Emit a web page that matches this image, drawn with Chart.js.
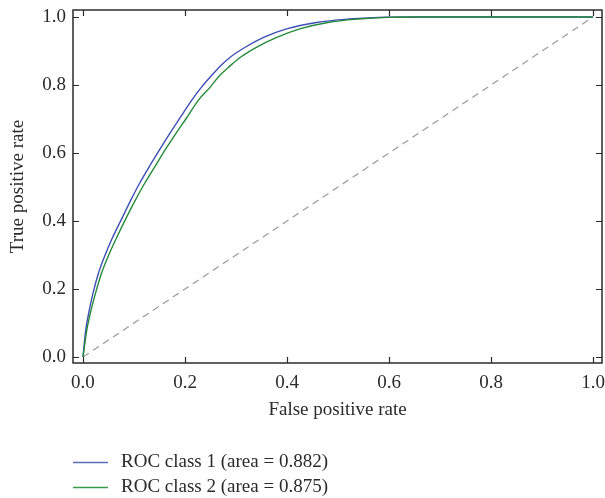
<!DOCTYPE html>
<html>
<head>
<meta charset="utf-8">
<script src="https://cdn.jsdelivr.net/npm/chart.js@4"></script>
<style>
  html, body { margin: 0; padding: 0; background: #fff; }
  #wrap { width: 605px; height: 498px; }
</style>
</head>
<body>
<div id="wrap"><canvas id="roc" width="605" height="498"></canvas></div>
<script>
// values
const tickValues = [0, 0.2, 0.4, 0.6, 0.8, 1.0];

const class1Fpr = [0, 0.005, 0.01, 0.02, 0.03, 0.042, 0.056, 0.078, 0.095, 0.111, 0.13, 0.15, 0.17, 0.19, 0.213, 0.232, 0.252, 0.27, 0.288, 0.318, 0.354, 0.399, 0.458, 0.52, 0.58, 0.64, 0.8, 1.0];
const class1Tpr = [0, 0.075, 0.12, 0.19, 0.245, 0.295, 0.345, 0.413, 0.465, 0.511, 0.56, 0.609, 0.657, 0.703, 0.755, 0.793, 0.828, 0.857, 0.881, 0.911, 0.94, 0.965, 0.984, 0.994, 0.999, 1.0, 1.0, 1.0];

const class2Fpr = [0, 0.007, 0.013, 0.025, 0.036, 0.049, 0.064, 0.086, 0.104, 0.121, 0.141, 0.161, 0.182, 0.203, 0.226, 0.249, 0.268, 0.289, 0.308, 0.34, 0.38, 0.425, 0.48, 0.54, 0.6, 0.66, 0.8, 1.0];
const class2Tpr = [0, 0.075, 0.12, 0.19, 0.245, 0.295, 0.345, 0.413, 0.465, 0.511, 0.56, 0.609, 0.657, 0.703, 0.755, 0.793, 0.828, 0.857, 0.881, 0.911, 0.94, 0.965, 0.984, 0.994, 0.999, 1.0, 1.0, 1.0];

const chanceFpr = [0, 1];
const chanceTpr = [0, 1];

const seriesLabels = ["ROC class 1 (area = 0.882)", "ROC class 2 (area = 0.875)"];

const toPoints = (xs, ys) => xs.map((x, i) => ({ x: x, y: ys[i] }));

const FONT = "'Liberation Serif', 'DejaVu Serif', serif";
const TEXT = "#2b2b2b";

// no extra room for edge tick labels, the frame must sit at fixed px
const fixScale = (size) => (s) => {
  if (s.isHorizontal()) s.height = size; else s.width = size;
  s.paddingTop = 0; s.paddingBottom = 0; s.paddingLeft = 0; s.paddingRight = 0;
};

// box frame + inward ticks on all four sides, and the legend under the plot
const framePlugin = {
  id: "frame",
  afterDraw(chart) {
    const { ctx, chartArea: a, scales } = chart;
    ctx.save();
    ctx.strokeStyle = "#2b2b2b";
    ctx.lineWidth = 1.5;
    ctx.strokeRect(a.left, a.top, a.right - a.left, a.bottom - a.top);
    ctx.lineWidth = 1.2;
    ctx.beginPath();
    tickValues.forEach((v) => {
      const px = Math.round(scales.x.getPixelForValue(v)) + 0.5;
      ctx.moveTo(px, a.bottom); ctx.lineTo(px, a.bottom - 6);
      ctx.moveTo(px, a.top); ctx.lineTo(px, a.top + 6);
      const py = Math.round(scales.y.getPixelForValue(v)) + 0.5;
      ctx.moveTo(a.left, py); ctx.lineTo(a.left + 6, py);
      ctx.moveTo(a.right, py); ctx.lineTo(a.right - 6, py);
    });
    ctx.stroke();

    // legend
    ctx.font = "19px " + FONT;
    ctx.textBaseline = "middle";
    ctx.fillStyle = TEXT;
    const rows = [462, 487];
    [0, 1].forEach((i) => {
      const ds = chart.data.datasets[i];
      ctx.strokeStyle = ds.legendColor;
      ctx.lineWidth = 1.3;
      ctx.beginPath();
      ctx.moveTo(73, rows[i] + 0.5);
      ctx.lineTo(108, rows[i] + 0.5);
      ctx.stroke();
      ctx.fillText(ds.label, 121, rows[i]);
    });
    ctx.restore();
  }
};

new Chart(document.getElementById("roc"), {
  type: "scatter",
  data: {
    datasets: [
      {
        label: seriesLabels[0],
        data: toPoints(class1Fpr, class1Tpr),
        showLine: true,
        borderColor: "#3d4fb3",
        legendColor: "#5c6bb8",
        borderWidth: 1.4,
        pointRadius: 0,
        cubicInterpolationMode: "monotone",
        order: 1
      },
      {
        label: seriesLabels[1],
        data: toPoints(class2Fpr, class2Tpr),
        showLine: true,
        borderColor: "#268a3a",
        legendColor: "#3a9a4c",
        borderWidth: 1.4,
        pointRadius: 0,
        cubicInterpolationMode: "monotone",
        order: 0
      },
      {
        label: "chance",
        data: toPoints(chanceFpr, chanceTpr),
        showLine: true,
        borderColor: "#9a9a9a",
        borderWidth: 1.2,
        borderDash: [7, 5],
        pointRadius: 0,
        order: 2
      }
    ]
  },
  options: {
    responsive: false,
    animation: false,
    events: [],
    layout: { padding: { top: 10, right: 3, left: 0, bottom: 75 } },
    plugins: { legend: { display: false }, tooltip: { enabled: false } },
    scales: {
      x: {
        type: "linear",
        min: -0.0196,
        max: 1.0176,
        afterBuildTicks: (s) => { s.ticks = tickValues.map((v) => ({ value: v })); },
        afterFit: fixScale(60),
        grid: { display: false, drawTicks: false },
        border: { display: false },
        ticks: {
          padding: 9,
          color: TEXT,
          font: { family: FONT, size: 19 },
          callback: (v) => v.toFixed(1)
        },
        title: {
          display: true,
          text: "False positive rate",
          color: TEXT,
          font: { family: FONT, size: 19 },
          padding: { top: 0, bottom: 2 }
        }
      },
      y: {
        type: "linear",
        min: -0.0176,
        max: 1.0206,
        afterBuildTicks: (s) => { s.ticks = tickValues.map((v) => ({ value: v })); },
        afterFit: fixScale(73),
        grid: { display: false, drawTicks: false },
        border: { display: false },
        ticks: {
          padding: 7,
          color: TEXT,
          font: { family: FONT, size: 19 },
          callback: (v) => v.toFixed(1)
        },
        title: {
          display: true,
          text: "True positive rate",
          color: TEXT,
          font: { family: FONT, size: 19 },
          padding: { top: 7, bottom: 0 }
        }
      }
    }
  },
  plugins: [framePlugin]
});
</script>
</body>
</html>
